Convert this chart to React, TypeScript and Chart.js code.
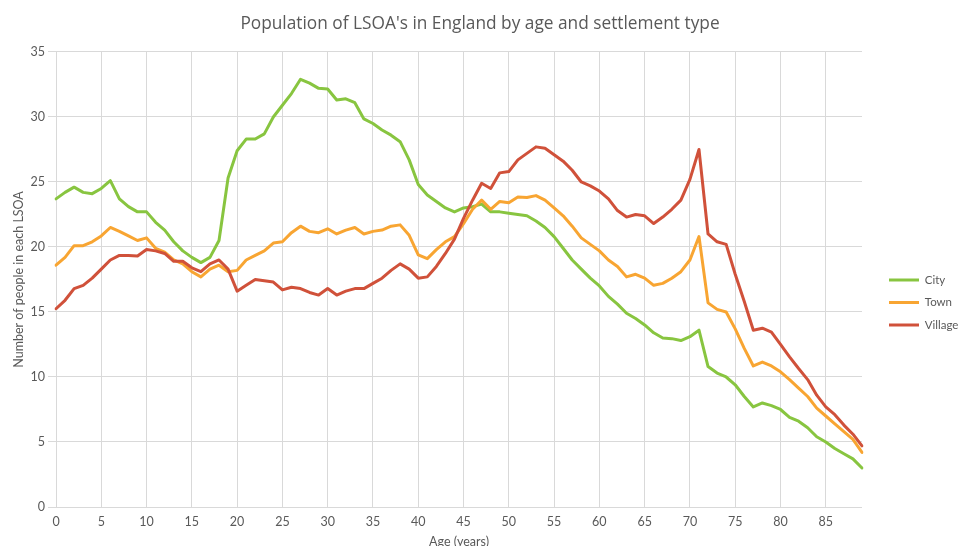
import React, { useEffect, useRef } from "react";
import { Chart, registerables } from "chart.js";

Chart.register(...registerables);

const ages: string[] = [
  "0","1","2","3","4","5","6","7","8","9",
  "10","11","12","13","14","15","16","17","18","19",
  "20","21","22","23","24","25","26","27","28","29",
  "30","31","32","33","34","35","36","37","38","39",
  "40","41","42","43","44","45","46","47","48","49",
  "50","51","52","53","54","55","56","57","58","59",
  "60","61","62","63","64","65","66","67","68","69",
  "70","71","72","73","74","75","76","77","78","79",
  "80","81","82","83","84","85","86","87","88","89",
];

const city: number[] = [
  23.7, 24.2, 24.6, 24.2, 24.1, 24.5, 25.1, 23.7, 23.1, 22.7,
  22.7, 21.9, 21.3, 20.4, 19.7, 19.2, 18.8, 19.2, 20.5, 25.3,
  27.4, 28.3, 28.3, 28.7, 30.0, 30.9, 31.8, 32.9, 32.6, 32.2,
  32.15, 31.3, 31.4, 31.1, 29.85, 29.5, 29.0, 28.6, 28.1, 26.7,
  24.8, 24.0, 23.5, 23.0, 22.7, 23.0, 23.1, 23.3, 22.7, 22.7,
  22.6, 22.5, 22.4, 22.0, 21.5, 20.8, 19.9, 19.0, 18.3, 17.6,
  17.0, 16.2, 15.6, 14.9, 14.5, 14.0, 13.4, 13.0, 12.95, 12.8,
  13.1, 13.6, 10.8, 10.3, 10.0, 9.4, 8.5, 7.7, 8.0, 7.8,
  7.5, 6.9, 6.6, 6.1, 5.4, 5.0, 4.5, 4.1, 3.7, 3.0,
];

const town: number[] = [
  18.6, 19.2, 20.1, 20.1, 20.4, 20.85, 21.5, 21.2, 20.85, 20.5,
  20.7, 19.9, 19.6, 19.0, 18.7, 18.1, 17.7, 18.3, 18.6, 18.1,
  18.2, 19.0, 19.35, 19.7, 20.3, 20.4, 21.1, 21.6, 21.2, 21.1,
  21.4, 21.0, 21.3, 21.5, 21.0, 21.2, 21.3, 21.6, 21.7, 20.9,
  19.4, 19.1, 19.8, 20.4, 20.8, 21.8, 22.9, 23.6, 22.9, 23.5,
  23.4, 23.85, 23.8, 23.95, 23.6, 23.0, 22.4, 21.6, 20.7, 20.2,
  19.7, 19.0, 18.5, 17.7, 17.9, 17.6, 17.05, 17.2, 17.6, 18.1,
  19.0, 20.8, 15.7, 15.2, 15.0, 13.7, 12.2, 10.85, 11.15, 10.85,
  10.4, 9.8, 9.15, 8.5, 7.6, 7.0, 6.4, 5.8, 5.2, 4.2,
];

const village: number[] = [
  15.25, 15.9, 16.8, 17.05, 17.6, 18.3, 19.0, 19.35, 19.35, 19.3,
  19.8, 19.7, 19.5, 18.9, 18.9, 18.4, 18.1, 18.7, 19.0, 18.3,
  16.6, 17.05, 17.5, 17.4, 17.3, 16.7, 16.9, 16.8, 16.5, 16.3,
  16.8, 16.3, 16.6, 16.8, 16.8, 17.2, 17.6, 18.2, 18.7, 18.3,
  17.6, 17.7, 18.5, 19.5, 20.6, 22.2, 23.6, 24.9, 24.5, 25.7,
  25.8, 26.7, 27.2, 27.7, 27.6, 27.1, 26.6, 25.9, 25.0, 24.7,
  24.3, 23.7, 22.8, 22.3, 22.5, 22.4, 21.8, 22.3, 22.9, 23.6,
  25.2, 27.5, 21.0, 20.4, 20.2, 17.9, 15.8, 13.6, 13.75, 13.45,
  12.5, 11.55, 10.65, 9.8, 8.6, 7.7, 7.1, 6.3, 5.6, 4.7,
];

const seriesNames = ["City", "Town", "Village"];
const seriesColors = ["#88C540", "#F8A532", "#D0513A"];

const FONT = "Lato, 'Open Sans', 'DejaVu Sans', sans-serif";
const TITLE_FONT = "'Open Sans', Lato, 'DejaVu Sans', sans-serif";
const TEXT = "#595959";
const GRID = "#D9D9D9";

export default function App() {
  const ref = useRef<HTMLCanvasElement | null>(null);

  useEffect(() => {
    if (!ref.current) return;
    const values = [city, town, village];
    const chart = new Chart(ref.current, {
      type: "line",
      data: {
        labels: ages,
        datasets: seriesNames.map((name, i) => ({
          label: name,
          data: values[i],
          borderColor: seriesColors[i],
          backgroundColor: seriesColors[i],
          borderWidth: 3,
          pointRadius: 0,
          pointHoverRadius: 0,
          tension: 0,
          fill: false,
          borderJoinStyle: "round" as const,
          borderCapStyle: "round" as const,
          order: 3 - i,
        })),
      },
      options: {
        responsive: false,
        animation: false,
        layout: { padding: 0 },
        plugins: {
          tooltip: { enabled: false },
          title: {
            display: true,
            text: "Population of LSOA's in England by age and settlement type",
            color: TEXT,
            font: { family: TITLE_FONT, size: 17.3, weight: "normal" },
            padding: { top: 14.1, bottom: 17.1 },
          },
          legend: {
            display: true,
            position: "right",
            align: "center",
            maxWidth: 82,
            title: {
              display: true,
              text: "",
              font: { size: 10, lineHeight: 1 },
              padding: { top: 49, bottom: 0 },
            },
            labels: {
              color: TEXT,
              font: { family: FONT, size: 11.5 },
              usePointStyle: true,
              pointStyle: "line",
              pointStyleWidth: 30,
              boxWidth: 30,
              padding: 11,
              sort: (a: any, b: any) => a.datasetIndex - b.datasetIndex,
            },
          },
        },
        scales: {
          x: {
            type: "category",
            offset: false,
            grid: {
              color: (c: any) =>
                c.tick && Number(ages[c.tick.value]) % 5 === 0 ? GRID : "rgba(0,0,0,0)",
              drawTicks: false,
              lineWidth: 1,
            },
            border: { display: false },
            ticks: {
              autoSkip: false,
              maxRotation: 0,
              minRotation: 0,
              padding: 7,
              color: TEXT,
              font: { family: FONT, size: 12.5 },
              callback: (_v: any, idx: number) =>
                Number(ages[idx]) % 5 === 0 ? ages[idx] : "",
            },
            title: {
              display: true,
              text: "Age (years)",
              color: TEXT,
              font: { family: FONT, size: 12.5 },
              padding: { top: 0, bottom: -3 },
            },
            afterFit: (s: any) => {
              s.height = 39;
            },
          },
          y: {
            type: "linear",
            min: 0,
            max: 35,
            ticks: {
              stepSize: 5,
              padding: 3,
              color: TEXT,
              font: { family: FONT, size: 12.5 },
            },
            grid: {
              color: GRID,
              lineWidth: 1,
              drawTicks: true,
              tickLength: 8,
            },
            border: { display: false },
            title: {
              display: true,
              text: "Number of people in each LSOA",
              color: TEXT,
              font: { family: FONT, size: 12.5 },
              padding: { top: 11, bottom: 0 },
            },
            afterFit: (s: any) => {
              s.width = 56;
            },
          },
          gap: {
            type: "linear",
            position: "right",
            display: true,
            grid: { display: false, drawTicks: false },
            border: { display: false },
            ticks: { display: false },
            afterFit: (s: any) => {
              s.width = 16;
            },
          },
        },
      },
    });
    return () => chart.destroy();
  }, []);

  return (
    <div style={{ position: "absolute", left: 0, top: 0, width: 960, height: 546, background: "#ffffff" }}>
      <canvas ref={ref} width={960} height={546} style={{ display: "block" }} />
    </div>
  );
}
